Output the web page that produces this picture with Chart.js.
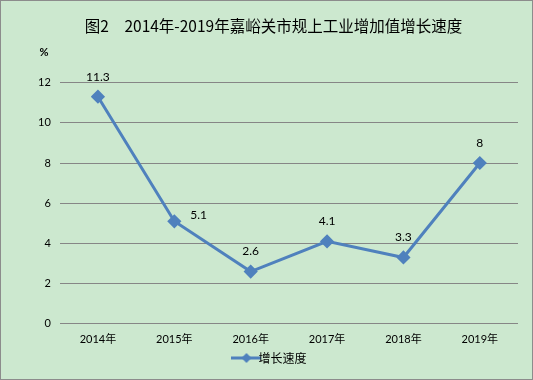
<!DOCTYPE html>
<html>
<head>
<meta charset="utf-8">
<script src="https://cdn.jsdelivr.net/npm/chart.js@4"></script>
<style>
  html, body { margin: 0; padding: 0; background: #cce8cf; }
  #wrap { width: 533px; height: 380px; box-sizing: border-box; border: 1px solid #8c8c8c; position: relative; }
  canvas { display: block; }
</style>
</head>
<body>
<div id="wrap"><canvas id="growthChart" width="531" height="378"></canvas></div>
<script>
const years = ["2014年", "2015年", "2016年", "2017年", "2018年", "2019年"];
const growth = [11.3, 5.1, 2.6, 4.1, 3.3, 8];
const yTicks = [0, 2, 4, 6, 8, 10, 12];
const lineColor = "#4f81bd";
const cjk = '"Noto Sans CJK SC"';
const latin = 'Lato, "Noto Sans CJK SC"';

// legend marker: short line with a diamond in the middle
function legendMarker() {
  const c = document.createElement("canvas");
  c.width = 30; c.height = 12;
  const g = c.getContext("2d");
  g.strokeStyle = lineColor;
  g.lineWidth = 3;
  g.beginPath(); g.moveTo(0, 6); g.lineTo(30, 6); g.stroke();
  g.fillStyle = lineColor;
  g.beginPath(); g.moveTo(15, 1); g.lineTo(20, 6); g.lineTo(15, 11); g.lineTo(10, 6); g.closePath(); g.fill();
  return c;
}

const valueLabels = {
  id: "valueLabels",
  afterDatasetsDraw(chart) {
    const ctx = chart.ctx;
    const pts = chart.getDatasetMeta(0).data;
    ctx.save();
    ctx.font = "12px " + latin;
    ctx.fillStyle = "#000";
    ctx.textBaseline = "middle";
    pts.forEach((p, i) => {
      if (i === 1) {
        ctx.textAlign = "left";
        ctx.fillText(growth[i], p.x + 16, p.y - 6);
      } else {
        ctx.textAlign = "center";
        ctx.fillText(growth[i], p.x, p.y - 20);
      }
    });
    // unit mark above the y axis
    ctx.font = "bold 11px " + latin;
    ctx.textAlign = "center";
    ctx.fillText("%", 43, 51);
    ctx.restore();
  }
};

new Chart(document.getElementById("growthChart"), {
  type: "line",
  data: {
    labels: years,
    datasets: [{
      label: "增长速度",
      data: growth,
      borderColor: lineColor,
      backgroundColor: lineColor,
      borderWidth: 3,
      pointStyle: "rectRot",
      pointRadius: 5,
      pointHoverRadius: 5,
      tension: 0
    }]
  },
  options: {
    responsive: false,
    animation: false,
    layout: { padding: { left: 28, right: 14, top: 4, bottom: 5 } },
    plugins: {
      title: {
        display: true,
        text: "图2　2014年-2019年嘉峪关市规上工业增加值增长速度",
        color: "#000",
        font: { family: cjk, size: 15.5, weight: "normal" },
        padding: { top: 12, bottom: 47 }
      },
      legend: {
        position: "bottom",
        labels: {
          usePointStyle: true,
          pointStyle: legendMarker(),
          color: "#000",
          font: { family: cjk, size: 12 },
          padding: 1
        }
      },
      tooltip: { enabled: false }
    },
    scales: {
      x: {
        offset: true,
        grid: { display: false },
        border: { display: false },
        afterFit: axis => { axis.height += 4; },
        ticks: { color: "#000", font: { family: latin, size: 11 }, padding: 1 }
      },
      y: {
        min: 0,
        max: 12,
        afterBuildTicks: axis => { axis.ticks = yTicks.map(v => ({ value: v })); },
        grid: { color: "#868686", lineWidth: 1, drawTicks: false },
        border: { display: false },
        ticks: { color: "#000", font: { family: latin, size: 11 }, padding: 9 }
      }
    }
  },
  plugins: [valueLabels]
});
</script>
</body>
</html>
